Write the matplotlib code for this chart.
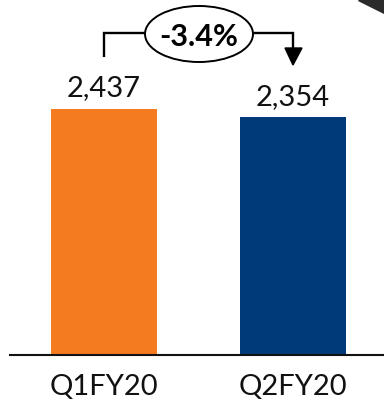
import matplotlib
matplotlib.use("Agg")
import matplotlib.pyplot as plt
from matplotlib.patches import Ellipse, Polygon

categories = ["Q1FY20", "Q2FY20"]
values = [2437, 2354]
value_labels = ["2,437", "2,354"]
change_label = "-3.4%"
colors = ["#F47B20", "#003A78"]

plt.rcParams['font.family'] = ['Lato', 'DejaVu Sans']

W, H = 384, 403
fig = plt.figure(figsize=(W / 100, H / 100), dpi=100)

base_px = 355
px_per_unit = 246 / 2437
ax = fig.add_axes([0, (H - base_px) / H, 1, base_px / H])
ax.set_ylim(0, base_px / px_per_unit)
x_scale = 189.0
ax.set_xlim(-104 / x_scale, (W - 104) / x_scale)

def py(p):  # pixel-from-top to data y
    return (base_px - p) / px_per_unit

def px(p):  # pixel x to data x
    return (p - 104) / x_scale

xs = list(range(len(categories)))
ax.bar(xs, values, width=106 / x_scale, color=colors, zorder=2)

for x, v, lab in zip(xs, values, value_labels):
    ax.annotate(lab, (x, v), xytext=(0, 9), textcoords="offset points",
                ha="center", va="baseline", fontsize=21, color="#111111")

for sp in ax.spines.values():
    sp.set_visible(False)
ax.set_yticks([])
ax.set_xticks(xs)
ax.set_xticklabels(categories, fontsize=21, color="#111111")
ax.tick_params(axis="x", length=0, pad=14)
ax.axhline(0, xmin=10 / W, xmax=1, color="#111111", lw=1.5, clip_on=False, zorder=3)

# bracket annotation
y_line = py(33)
ax.plot([xs[0], xs[0], px(145)], [py(57), y_line, y_line], color="black", lw=1.7,
        solid_capstyle="butt", solid_joinstyle="miter", clip_on=False)
ax.plot([px(253), xs[1], xs[1]], [y_line, y_line, py(50)], color="black", lw=1.7,
        solid_capstyle="butt", solid_joinstyle="miter", clip_on=False)
ax.add_patch(Polygon([[px(285), py(48)], [px(302), py(48)], [xs[1], py(65)]],
                     closed=True, color="black", clip_on=False))
ax.add_patch(Ellipse((px(199), py(34)),
                     width=108 / x_scale, height=56 / px_per_unit,
                     facecolor="white", edgecolor="black", lw=1.4, clip_on=False))
ax.text(px(199), py(34), change_label, ha="center", va="center_baseline",
        fontsize=22, fontweight="bold", color="black")

# dark corner
fig.patches.append(Polygon([[358 / W, 1], [1, 1], [1, 1 - 13 / H]], closed=True,
                           transform=fig.transFigure, color="#2b2b2b"))

fig.savefig("out.png", dpi=100)
